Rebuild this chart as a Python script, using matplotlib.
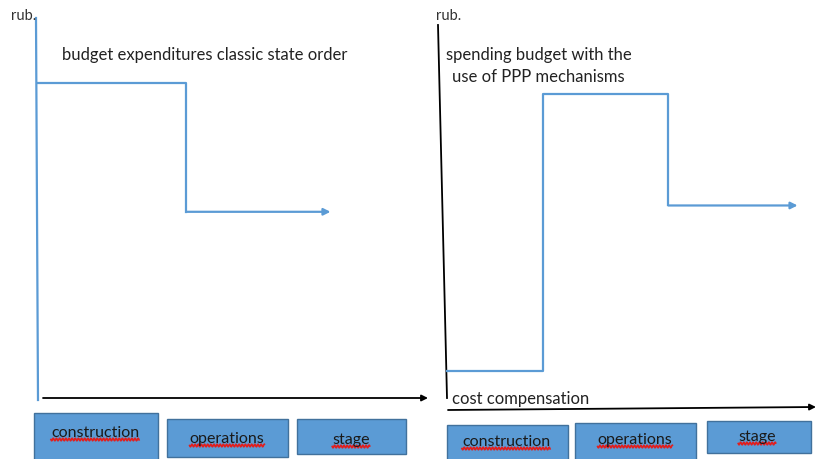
import numpy as np
import matplotlib
matplotlib.use("Agg")
import matplotlib.pyplot as plt
from matplotlib.patches import Rectangle

# data (levels in % of axis height, breakpoints in % of axis length)
stages = ["construction", "operations", "stage"]
classic_x = [0, 38, 75]
classic_levels = [83, 49]
ppp_x = [0, 26, 60, 95]
ppp_levels = [10, 82, 53]

blue = "#5B9BD5"
box_edge = "#41719C"
font = ["Lato", "DejaVu Sans"]

fig = plt.figure(figsize=(8.16, 4.59), dpi=100)
bg = fig.add_axes([0, 0, 1, 1])
bg.set_xlim(0, 816)
bg.set_ylim(459, 0)
bg.axis("off")
renderer = fig.canvas.get_renderer()


def panel(x0, y0, w, h):
    # axes placed in pixel coords of the 816x459 canvas
    ax = fig.add_axes([x0 / 816, (459 - y0) / 459, w / 816, h / 459])
    ax.set_xlim(0, 100)
    ax.set_ylim(0, 100)
    ax.axis("off")
    return ax


def step_line(ax, xs, levels):
    px, py = [], []
    for i, lv in enumerate(levels):
        px += [xs[i], xs[i + 1]]
        py += [lv, lv]
    ax.plot(px[:-1], py[:-1], color=blue, lw=1.6, clip_on=False)
    ax.annotate("", xy=(px[-1], py[-1]), xytext=(px[-2], py[-2]),
                arrowprops=dict(arrowstyle="-|>", color=blue, lw=1.6,
                                mutation_scale=10, shrinkA=0, shrinkB=0))


def squiggle(x0, x1, y):
    xx = np.linspace(x0, x1, 200)
    bg.plot(xx, y + 1.3 * np.sin((xx - x0) * 2.0), color="#E02020", lw=1.2)


def boxes(rects, text_pos):
    for (x0, y0, x1, y1), (tx, ty), name in zip(rects, text_pos, stages):
        bg.add_patch(Rectangle((x0, y0), x1 - x0, y1 - y0, facecolor=blue,
                               edgecolor=box_edge, lw=1.0))
        t = bg.text(tx, ty, name, ha="center", va="center", fontsize=11.5,
                    color="#1a1a1a", family=font)
        bb = t.get_window_extent(renderer)
        hw = bb.width / 2
        squiggle(tx - hw, tx + hw, ty + 6.5)


# left panel
axl = panel(38, 398, 390, 380)
bg.plot([36, 38], [18, 400], color=blue, lw=1.6)
bg.annotate("", xy=(428, 398), xytext=(43, 398),
            arrowprops=dict(arrowstyle="-|>", color="black", lw=1.3,
                            mutation_scale=9, shrinkA=0, shrinkB=0))
step_line(axl, classic_x, classic_levels)
bg.text(11, 16, "rub.", fontsize=10.5, color="#333333", family=font, va="center")
bg.text(62, 55, "budget expenditures classic state order", fontsize=12,
        color="#222222", family=font, va="center")
boxes([(34, 413, 158, 462), (167, 419, 288, 457), (297, 419, 406, 454)],
      [(95, 433), (227, 439), (351, 440)])

# right panel
axr = panel(447, 409, 369, 384)
bg.plot([438, 447], [25, 398], color="black", lw=1.3)
bg.annotate("", xy=(816, 407), xytext=(448, 410),
            arrowprops=dict(arrowstyle="-|>", color="black", lw=1.3,
                            mutation_scale=9, shrinkA=0, shrinkB=0))
step_line(axr, ppp_x, ppp_levels)
bg.text(436, 16, "rub.", fontsize=10.5, color="#333333", family=font, va="center")
bg.text(446, 55, "spending budget with the", fontsize=12,
        color="#222222", family=font, va="center")
bg.text(452, 77, "use of PPP mechanisms", fontsize=12,
        color="#222222", family=font, va="center")
bg.text(452, 399, "cost compensation", fontsize=12,
        color="#222222", family=font, va="center")
boxes([(447, 425, 568, 462), (575, 423, 696, 462), (707, 421, 811, 453)],
      [(506, 442), (635, 440), (757, 437)])

fig.savefig("out.png", dpi=100)
